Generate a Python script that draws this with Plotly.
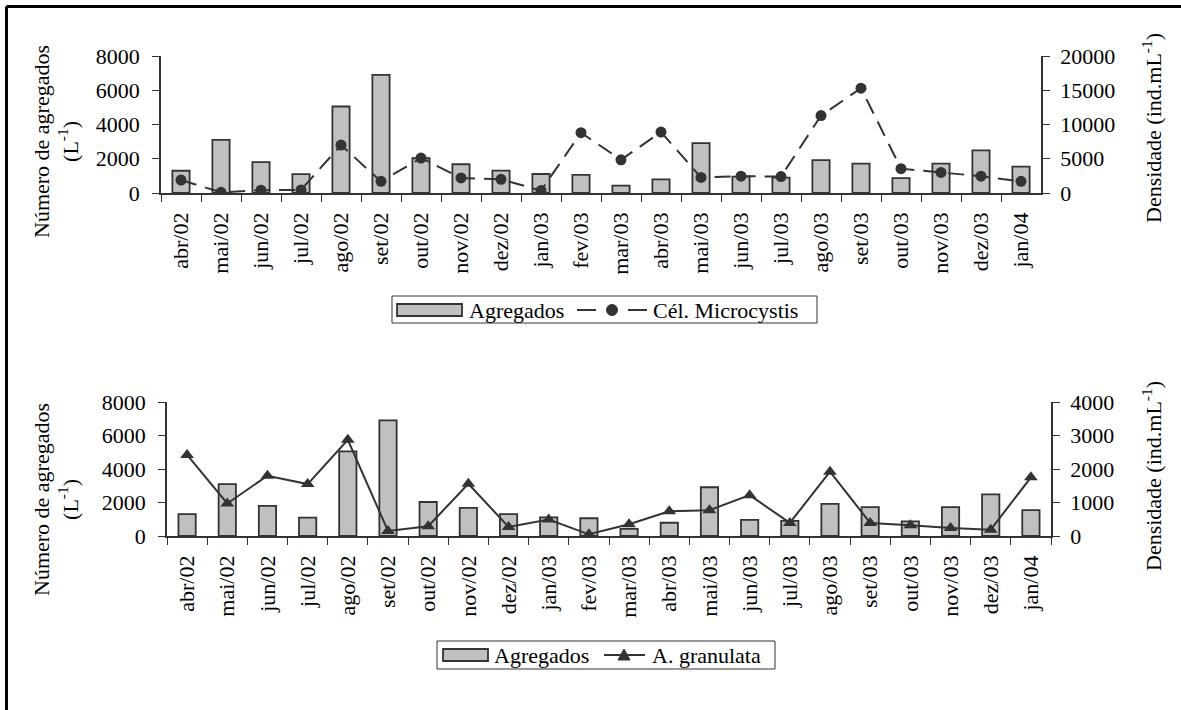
import plotly.graph_objects as go

# Sampling months
meses = ["abr/02", "mai/02", "jun/02", "jul/02", "ago/02", "set/02", "out/02",
         "nov/02", "dez/02", "jan/03", "fev/03", "mar/03", "abr/03", "mai/03",
         "jun/03", "jul/03", "ago/03", "set/03", "out/03", "nov/03", "dez/03",
         "jan/04"]

# Number of aggregates (L-1)
agregados = [1300, 3100, 1800, 1100, 5050, 6900, 2030, 1680, 1310, 1110, 1060,
             430, 790, 2910, 960, 900, 1920, 1720, 870, 1720, 2490, 1540]

# Microcystis cell density (ind.mL-1)
microcystis = [1900, 100, 400, 450, 7000, 1700, 5100, 2200, 2000, 350, 8800,
               4850, 8900, 2280, 2450, 2400, 11300, 15300, 3550, 3000, 2450, 1700]

# Aulacoseira granulata density (ind.mL-1)
granulata = [2420, 970, 1800, 1550, 2870, 150, 290, 1560, 270, 490, 50,
             350, 740, 770, 1220, 390, 1920, 390, 320, 240, 190, 1750]

W, H = 1181, 710
FONT = "Liberation Serif"
DARK = "#333333"
BAR_FILL = "#c0c0c0"
FS = 22


def px(x):
    return x / W


def py(y):
    return 1 - y / H


fig = go.Figure()

# ---- upper panel: aggregates + Microcystis ----
fig.add_trace(go.Bar(x=meses, y=agregados, xaxis="x", yaxis="y", width=0.43,
                     marker=dict(color=BAR_FILL, line=dict(color=DARK, width=1.8)),
                     showlegend=False))
fig.add_trace(go.Scatter(x=meses, y=microcystis, xaxis="x", yaxis="y2",
                         mode="lines+markers",
                         line=dict(color=DARK, width=2, dash="16px,9px"),
                         marker=dict(symbol="circle", size=11, color=DARK),
                         showlegend=False))

# ---- lower panel: aggregates + A. granulata ----
fig.add_trace(go.Bar(x=meses, y=agregados, xaxis="x2", yaxis="y3", width=0.43,
                     marker=dict(color=BAR_FILL, line=dict(color=DARK, width=1.8)),
                     showlegend=False))
fig.add_trace(go.Scatter(x=meses, y=granulata, xaxis="x2", yaxis="y4",
                         mode="lines+markers",
                         line=dict(color=DARK, width=2),
                         marker=dict(symbol="triangle-up", size=12, color=DARK),
                         showlegend=False))

tickfont = dict(family=FONT, size=FS, color="black")

top_x = [px(161), px(1041)]
top_y = [py(193), py(56)]
bot_x = [px(167), px(1051)]
bot_y = [py(536), py(402)]

cat_axis = dict(type="category", categoryorder="array", categoryarray=meses,
                range=[-0.5, len(meses) - 0.5], tickson="boundaries",
                ticks="outside", ticklen=7, tickcolor=DARK, tickwidth=1,
                showline=True, linecolor=DARK, linewidth=1.5, showgrid=False,
                tickangle=-90, tickfont=tickfont, ticklabelstandoff=9,
                automargin=False)
# short ticks pointing up into the plot, so the boundary marks cross the axis
inner_ticks = dict(type="linear", range=[-0.5, len(meses) - 0.5],
                   tickmode="array",
                   tickvals=[i - 0.5 for i in range(len(meses) + 1)],
                   ticks="inside", ticklen=5, tickcolor=DARK, tickwidth=1,
                   showticklabels=False, showline=False, showgrid=False,
                   zeroline=False, automargin=False)

left_axis = dict(range=[0, 8000], dtick=2000, ticks="outside", ticklen=7,
                 tickcolor=DARK, showline=True, linecolor=DARK, linewidth=1.5,
                 showgrid=False, zeroline=False, tickfont=tickfont,
                 tickformat="d", ticklabelstandoff=8, automargin=False)
right_common = dict(ticks="outside", ticklen=7, tickcolor=DARK, showline=True,
                    linecolor=DARK, linewidth=1.5, showgrid=False,
                    zeroline=False, tickfont=tickfont, side="right",
                    tickformat="d", ticklabelstandoff=6, automargin=False)

fig.update_layout(
    template="none",
    width=W, height=H, margin=dict(l=0, r=0, t=0, b=0, pad=0),
    paper_bgcolor="white", plot_bgcolor="rgba(0,0,0,0)",
    font=dict(family=FONT, color="black"),
    barmode="overlay", showlegend=False,
    xaxis=dict(cat_axis, domain=top_x, anchor="y"),
    yaxis=dict(left_axis, domain=top_y, anchor="x"),
    yaxis2=dict(right_common, range=[0, 20000], dtick=5000,
                overlaying="y", anchor="x"),
    xaxis3=dict(inner_ticks, overlaying="x", anchor="y", side="bottom"),
    xaxis2=dict(cat_axis, domain=bot_x, anchor="y3"),
    yaxis3=dict(left_axis, domain=bot_y, anchor="x2"),
    yaxis4=dict(right_common, range=[0, 4000], dtick=1000,
                overlaying="y3", anchor="x2"),
    xaxis4=dict(inner_ticks, overlaying="x2", anchor="y3", side="bottom"),
)

annotations = []
shapes = []


def vtitle(xc, yc, text):
    annotations.append(dict(x=px(xc), y=py(yc), xref="paper", yref="paper",
                            text=text, textangle=-90, showarrow=False,
                            xanchor="center", yanchor="middle",
                            font=dict(family=FONT, size=FS, color="black")))


# axis titles
vtitle(56, 142, "Número de agregados<br>(L<sup>-1</sup>)")
vtitle(56, 500, "Número de agregados<br>(L<sup>-1</sup>)")
vtitle(1152, 128, "Densidade (ind.mL<sup>-1</sup>)")
vtitle(1152, 476, "Densidade (ind.mL<sup>-1</sup>)")

# frame lines at the top and left edges of the page
shapes.append(dict(type="line", xref="paper", yref="paper",
                   x0=px(6.5), x1=1, y0=py(6.5), y1=py(6.5),
                   line=dict(color="black", width=3)))
shapes.append(dict(type="line", xref="paper", yref="paper",
                   x0=px(6.5), x1=px(6.5), y0=py(6.5), y1=0,
                   line=dict(color="black", width=3)))


def legend_box(x0, x1, y0, y1):
    shapes.append(dict(type="rect", xref="paper", yref="paper",
                       x0=px(x0), x1=px(x1), y0=py(y1), y1=py(y0),
                       line=dict(color=DARK, width=1), fillcolor="white"))


def bar_swatch(x0, x1, yc):
    shapes.append(dict(type="rect", xref="paper", yref="paper",
                       x0=px(x0), x1=px(x1), y0=py(yc + 6), y1=py(yc - 6),
                       line=dict(color=DARK, width=1.8), fillcolor=BAR_FILL))


def label(x, yc, text):
    annotations.append(dict(x=px(x), y=py(yc), xref="paper", yref="paper",
                            text=text, xanchor="left", yanchor="middle",
                            showarrow=False,
                            font=dict(family=FONT, size=FS, color="black")))


# legend of the upper panel
legend_box(392, 817, 296, 323)
bar_swatch(397, 462, 310)
label(467, 310, "Agregados")
shapes.append(dict(type="line", xref="paper", yref="paper",
                   x0=px(577), x1=px(596), y0=py(310), y1=py(310),
                   line=dict(color=DARK, width=2)))
shapes.append(dict(type="line", xref="paper", yref="paper",
                   x0=px(628), x1=px(647), y0=py(310), y1=py(310),
                   line=dict(color=DARK, width=2)))
shapes.append(dict(type="circle", xref="paper", yref="paper",
                   x0=px(606.5), x1=px(617.5), y0=py(315.5), y1=py(304.5),
                   line=dict(color=DARK, width=1), fillcolor=DARK))
label(651, 310, "Cél. Microcystis")

# legend of the lower panel
legend_box(437, 775, 641, 669)
bar_swatch(443, 488, 655)
label(492, 655, "Agregados")
shapes.append(dict(type="line", xref="paper", yref="paper",
                   x0=px(604), x1=px(645), y0=py(655), y1=py(655),
                   line=dict(color=DARK, width=2)))
shapes.append(dict(type="path", xref="paper", yref="paper",
                   path="M {} {} L {} {} L {} {} Z".format(
                       px(618), py(660), px(630), py(660), px(624), py(649)),
                   line=dict(color=DARK, width=1), fillcolor=DARK))
label(650, 655, "A. granulata")

fig.update_layout(annotations=annotations, shapes=shapes)

fig.write_html("out.html")
